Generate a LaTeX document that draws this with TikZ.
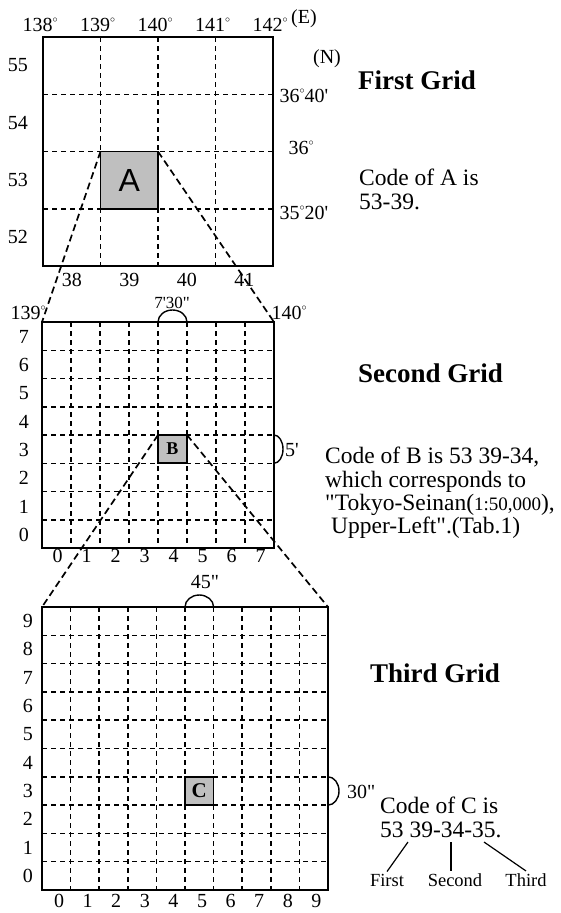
\documentclass[tikz,border=0pt]{standalone}
\usepackage{fontspec}
\setmainfont{Liberation Serif}[Ligatures=TeXOff]
\newfontfamily\helv{Liberation Sans}
\usetikzlibrary{calc}
\newcommand{\dg}{\raisebox{9pt}{\fontsize{10}{10}\selectfont$\circ$}}

\begin{document}
\begin{tikzpicture}[
    x=1pt, y=-1pt,
    gridframe/.style={rectangle, draw=black, line width=2pt, inner sep=0pt, outer sep=0pt},
    cell/.style={rectangle, draw=black, line width=1.6pt, fill=black!25, inner sep=0pt, outer sep=0pt},
    griddash/.style={line width=1.5pt, dash pattern=on 5pt off 4pt},
    zoomline/.style={line width=1.7pt, dash pattern=on 7pt off 4pt},
    bracket/.style={line width=1.4pt},
    lbl/.style={font=\fontsize{20}{20}\selectfont, inner sep=0pt},
    partlbl/.style={font=\fontsize{18.5}{18.5}\selectfont, inner sep=2pt, anchor=base},
    title/.style={font=\fontsize{27}{27}\selectfont\bfseries, anchor=base west, inner sep=0pt},
    note/.style={font=\fontsize{23.5}{23.3}\selectfont, align=left, anchor=north west, inner sep=0pt},
]
\useasboundingbox (0,0) rectangle (561,913);

% First grid
\node[gridframe, minimum width=230pt, minimum height=229pt] (grid1) at (158,151.5) {};
\foreach \i in {1,2,3} {
  \draw[griddash] ($(grid1.north west)+(57.5*\i,0)$) -- ($(grid1.south west)+(57.5*\i,0)$);
  \draw[griddash] ($(grid1.north west)+(0,57.25*\i)$) -- ($(grid1.north east)+(0,57.25*\i)$);
}
\node[cell, minimum width=57.5pt, minimum height=57.25pt, anchor=north west] (boxa) at ($(grid1.north west)+(57.5,114.5)$) {};
\node[font=\helv\fontsize{32}{32}\selectfont] at (boxa) {A};

\foreach \lon [count=\i from 0] in {138,139,140,141,142}
  \node[lbl, anchor=base] at (40+57.5*\i,31) {\lon\dg};
\node[lbl] at (304,19) {(E)};
\node[lbl] at (327,59) {(N)};
\foreach \lat [count=\i from 0] in {55,54,53,52}
  \node[lbl] at (18,65.5+57.25*\i) {\lat};
\foreach \lon [count=\i from 0] in {38,39,40,41}
  \node[lbl] at (71.75+57.5*\i,280) {\lon};
\node[lbl, anchor=base] at (304,102) {36\dg40'};
\node[lbl, anchor=base] at (301,154) {36\dg};
\node[lbl, anchor=base] at (304,219) {35\dg20'};

\node[title] at (358,89) {First Grid};
\node[note] (codea) at (359,169) {Code of A is\\53-39.};

% Second grid
\node[gridframe, minimum width=232pt, minimum height=226pt] (grid2) at (158,435) {};
\foreach \i in {1,...,7} {
  \draw[griddash] ($(grid2.north west)+(29*\i,0)$) -- ($(grid2.south west)+(29*\i,0)$);
  \draw[griddash] ($(grid2.north west)+(0,28.25*\i)$) -- ($(grid2.north east)+(0,28.25*\i)$);
}
\node[cell, minimum width=29pt, minimum height=28.25pt, anchor=north west] (boxb) at ($(grid2.north west)+(116,113)$) {};
\node[font=\fontsize{18}{18}\selectfont\bfseries] at (boxb) {B};

\draw[zoomline] (boxa.north west) -- (grid2.north west);
\draw[zoomline] (boxa.north east) -- (grid2.north east);

\draw[bracket] (boxb.north west |- grid2.north) arc[start angle=180, end angle=0, x radius=14.5pt, y radius=12pt];
\draw[bracket] (grid2.east |- boxb.north) arc[start angle=90, end angle=-90, x radius=9pt, y radius=14.125pt];
\node[lbl, font=\fontsize{17}{17}\selectfont] at (172,303) {7'30"};
\node[lbl] at (292,450) {5'};
\node[lbl, anchor=base] at (28,319) {139\dg};
\node[lbl, anchor=base] at (289,319) {140\dg};
\foreach \n [count=\i from 0] in {7,...,0}
  \node[lbl] at (24,337+28.25*\i) {\n};
\foreach \n in {0,...,7}
  \node[lbl] at (57.5+29*\n,556) {\n};

\node[title] at (358,382) {Second Grid};
\node[note] (codeb) at (325,447) {Code of B is 53 39-34,\\which corresponds to\\"Tokyo-Seinan({\fontsize{19}{19}\selectfont 1:50,000}),\\\hspace*{6pt}Upper-Left".(Tab.1)};

% Third grid
\node[gridframe, minimum width=286pt, minimum height=283pt] (grid3) at (185,748.5) {};
\foreach \i in {1,...,9} {
  \draw[griddash] ($(grid3.north west)+(28.6*\i,0)$) -- ($(grid3.south west)+(28.6*\i,0)$);
  \draw[griddash] ($(grid3.north west)+(0,28.3*\i)$) -- ($(grid3.north east)+(0,28.3*\i)$);
}
\node[cell, minimum width=28.6pt, minimum height=28.3pt, anchor=north west] (boxc) at ($(grid3.north west)+(143,169.8)$) {};
\node[font=\fontsize{21}{21}\selectfont\bfseries] at (boxc) {C};

\draw[zoomline] (boxb.north west) -- (grid3.north west);
\draw[zoomline] (boxb.north east) -- (grid3.north east);

\draw[bracket] (boxc.north west |- grid3.north) arc[start angle=180, end angle=0, x radius=14.3pt, y radius=12pt];
\draw[bracket] (grid3.east |- boxc.north) arc[start angle=90, end angle=-90, x radius=11pt, y radius=14.15pt];
\node[lbl] at (205,582) {45"};
\node[lbl, anchor=west] at (347,792) {30"};
\foreach \n [count=\i from 0] in {9,...,0}
  \node[lbl] at (28,621+28.3*\i) {\n};
\foreach \n in {0,...,9}
  \node[lbl] at (59+28.6*\n,901) {\n};

\node[title] at (370,682) {Third Grid};
\node[note] (codec) at (380,797) {Code of C is\\53 39-34-35.};

% Parts of the code
\node[partlbl] (first) at (387,886) {First};
\node[partlbl] (second) at (455,886) {Second};
\node[partlbl] (third) at (526,886) {Third};
\coordinate (cut1) at (408,842);
\coordinate (cut2) at (451,842);
\coordinate (cut3) at (484,842);
\draw[line width=1.2pt] (cut1) -- (first.north);
\draw[line width=1.2pt] (cut2) -- (cut2 |- second.north);
\draw[line width=1.2pt] (cut3) -- (third.north);

\end{tikzpicture}
\end{document}
